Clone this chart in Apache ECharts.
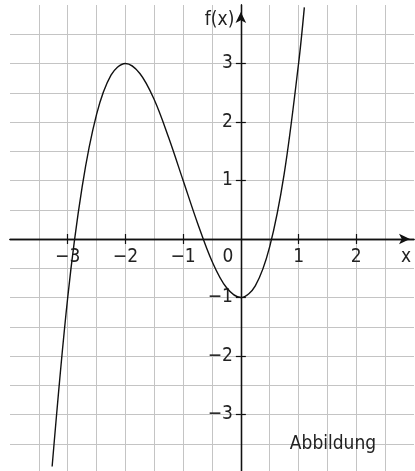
<!DOCTYPE html>
<html>
<head>
<meta charset="utf-8">
<script src="https://cdn.jsdelivr.net/npm/echarts@6/dist/echarts.min.js"></script>
<style>
  html, body { margin: 0; padding: 0; background: #fff; }
  #chart { width: 415px; height: 471px; }
</style>
</head>
<body>
<div id="chart"></div>
<script>
// Sampled points of the curve f(x)
const xValues = [-3.27, -3.0, -2.75, -2.5, -2.25, -2.0, -1.75, -1.5, -1.25, -1.0, -0.75, -0.5, -0.25, 0, 0.25, 0.5, 0.75, 1.0, 1.1];
const fValues = [-3.89, -1.0, 0.89, 2.13, 2.80, 3.0, 2.83, 2.38, 1.73, 1.0, 0.27, -0.38, -0.83, -1.0, -0.80, -0.13, 1.11, 3.0, 3.96];

// Axis ranges and labelled ticks
const xRange = [-4, 3];
const yRange = [-4, 4];
const xTicks = [-3, -2, -1, 1, 2];
const yTicks = [-3, -2, -1, 1, 2, 3];
const originLabel = '0';
const xName = 'x';
const yName = 'f(x)';
const caption = 'Abbildung';

const FONT = '"Liberation Sans Narrow", "DejaVu Sans Condensed", "Roboto", sans-serif';
const TEXT = '#222';
const GRID = '#c4c4c4';
const INK = '#111';

const fmt = v => (v < 0 ? '\u2212' + Math.abs(v) : String(v));

const chart = echarts.init(document.getElementById('chart'), null, { renderer: 'canvas' });

const gridLines = {
  splitLine: { show: true, lineStyle: { color: GRID, width: 1 } },
  minorTick: { show: false, splitNumber: 2 },
  minorSplitLine: { show: true, lineStyle: { color: GRID, width: 1 } }
};

// Each axis is drawn twice (one per side) so the ticks cross the axis line.
function xAxisDef(primary) {
  return Object.assign({
    type: 'value',
    min: xRange[0], max: xRange[1], interval: 1,
    position: primary ? 'bottom' : 'top',
    axisLine: {
      show: true, onZero: false,
      lineStyle: { color: INK, width: 1.3 },
      symbol: primary ? ['none', 'arrow'] : 'none',
      symbolSize: [8, 11],
      symbolOffset: [0, -4]
    },
    axisTick: { show: true, length: 5, customValues: xTicks, lineStyle: { color: INK, width: 1.2 } },
    axisLabel: primary ? {
      show: true, customValues: xTicks.concat([0]),
      formatter: v => (v === 0 ? '{o|' + originLabel + '}' : fmt(v)),
      fontFamily: FONT, fontSize: 19, color: TEXT, margin: 9,
      rich: { o: { fontFamily: FONT, fontSize: 19, color: TEXT, padding: [0, 26, 0, 0] } }
    } : { show: false }
  }, primary ? gridLines : { splitLine: { show: false } });
}

function yAxisDef(primary) {
  return Object.assign({
    type: 'value',
    min: yRange[0], max: yRange[1], interval: 1,
    position: primary ? 'left' : 'right',
    axisLine: {
      show: true, onZero: false,
      lineStyle: { color: INK, width: 1.3 },
      symbol: primary ? ['none', 'arrow'] : 'none',
      symbolSize: [8, 11],
      symbolOffset: [0, -7]
    },
    axisTick: { show: true, length: 5, customValues: yTicks, lineStyle: { color: INK, width: 1.2 } },
    axisLabel: primary ? {
      show: true, customValues: yTicks,
      formatter: v => fmt(v),
      fontFamily: FONT, fontSize: 19, color: TEXT, margin: 8
    } : { show: false }
  }, primary ? gridLines : { splitLine: { show: false } });
}

chart.setOption({
  animation: false,
  backgroundColor: '#fff',
  grid: { left: 10, top: 5, right: 1, bottom: -2, containLabel: false, outerBoundsMode: 'none' },
  xAxis: [xAxisDef(true), xAxisDef(false)],
  yAxis: [yAxisDef(true), yAxisDef(false)],
  series: [{
    type: 'line',
    xAxisIndex: 0, yAxisIndex: 0,
    data: xValues.map((x, i) => [x, fValues[i]]),
    smooth: 0.35,
    showSymbol: false,
    clip: true,
    lineStyle: { color: INK, width: 1.4 }
  }]
});

// Move the axes onto the origin using the grid's own scale.
const toPx = v => chart.convertToPixel({ gridIndex: 0 }, v);
const origin = toPx([0, 0]);
const lowCorner = toPx([xRange[0], yRange[0]]);
const highCorner = toPx([xRange[1], yRange[1]]);
const gLeft = lowCorner[0], gBottom = lowCorner[1], gRight = highCorner[0], gTop = highCorner[1];

chart.setOption({
  xAxis: [{ offset: origin[1] - gBottom }, { offset: gTop - origin[1] }],
  yAxis: [{ offset: gLeft - origin[0] }, { offset: origin[0] - gRight }],
  graphic: [
    { type: 'text', x: origin[0] - 36, y: gTop + 6, style: { text: yName, font: '19px ' + FONT, fill: TEXT } },
    { type: 'text', x: gRight - 13, y: origin[1] + 9, style: { text: xName, font: '19px ' + FONT, fill: TEXT } },
    { type: 'text', x: origin[0] + 49, y: toPx([0, -3.35])[1], style: { text: caption, font: '19px ' + FONT, fill: TEXT } }
  ]
});
</script>
</body>
</html>
